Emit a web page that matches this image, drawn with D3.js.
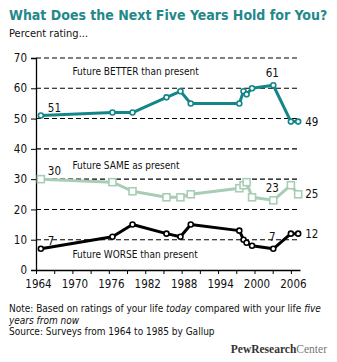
<!DOCTYPE html>
<html>
<head>
<meta charset="utf-8">
<script src="https://cdn.jsdelivr.net/npm/d3@7"></script>
<style>
  body { margin: 0; background: #fff; }
  svg text { font-family: "DejaVu Sans Condensed", "DejaVu Sans", sans-serif; font-stretch: condensed; }
</style>
</head>
<body>
<div id="chart"></div>
<script>
// survey dates (as plotted) and percentages
const years  = [1964.8, 1976.6, 1979.9, 1985.5, 1987.8, 1989.5, 1997.5, 1998.2, 1998.7, 1999.6, 2003.1, 2006.0, 2007.2];
const better = [51, 52, 52, 57, 59, 55, 55, 59, 58, 60, 61, 49, 49];
const same   = [30, 29, 26, 24, 24, 25, 27, 28, 29, 24, 23, 28, 25];
const worse  = [7, 11, 15, 12, 11, 15, 13, 10, 9, 8, 7, 12, 12];
const yTicks = [0, 10, 20, 30, 40, 50, 60, 70];
const xLabels = [1964, 1970, 1976, 1982, 1988, 1994, 2000, 2006];
// which points get a number (first, 2002, last)
const labelIdx = [0, 10, 12];

const svgWidth = 337, svgHeight = 362;
const svg = d3.select("#chart").append("svg")
  .attr("width", svgWidth)
  .attr("height", svgHeight);

// title + subtitle
svg.append("text")
  .attr("x", 9).attr("y", 20)
  .style("font-size", "14px").style("font-weight", "bold")
  .attr("fill", "#23888a")
  .text("What Does the Next Five Years Hold for You?");
svg.append("text")
  .attr("x", 9).attr("y", 37)
  .style("font-size", "11px").attr("fill", "#111")
  .text("Percent rating...");

const x = d3.scaleLinear().domain([1964, 2007.5]).range([36, 300]);
const y = d3.scaleLinear().domain([0, 70]).range([270, 58]);

const chart = svg.append("g");

// dashed grid
chart.selectAll(".grid")
  .data(yTicks.filter(d => d > 0))
  .enter().append("line")
  .attr("x1", x(1964)).attr("x2", x(2007.5))
  .attr("y1", d => y(d)).attr("y2", d => y(d))
  .attr("stroke", "#000").attr("stroke-width", 1.1)
  .attr("stroke-dasharray", "5,3");

// y axis
const yAxis = chart.append("g")
  .attr("transform", `translate(${x(1964)},0)`)
  .call(d3.axisLeft(y).tickValues(yTicks).tickSize(5).tickPadding(4));
yAxis.select(".domain").attr("stroke-width", 1.3);
yAxis.selectAll("text").style("font-size", "11.5px").attr("fill", "#111");

// x axis, ticks every 3 yrs, labels every 6
const xAxis = chart.append("g")
  .attr("transform", `translate(0,${y(0)})`)
  .call(d3.axisBottom(x).tickValues(d3.range(1964, 2007, 3)).tickSize(4).tickPadding(6)
    .tickSizeOuter(0)
    .tickFormat(d => xLabels.includes(d) ? d : ""));
xAxis.select(".domain").attr("stroke-width", 1.3);
xAxis.selectAll("text").style("font-size", "11.5px").attr("fill", "#111").attr("dx", 2);

const series = [
  { name: "better", values: better, color: "#14868a", shape: "circle", text: "Future BETTER than present", at: 64.4 },
  { name: "same",   values: same,   color: "#a9cdb4", shape: "square", text: "Future SAME as present",    at: 33.4 },
  { name: "worse",  values: worse,  color: "#000000", shape: "circle", text: "Future WORSE than present",  at: 3.9 }
];

const line = d3.line()
  .x(d => x(d.year))
  .y(d => y(d.value));

series.forEach(s => {
  const pts = years.map((yr, i) => ({ year: yr, value: s.values[i] }));
  const g = chart.append("g").attr("class", s.name);

  g.append("path")
    .datum(pts)
    .attr("d", line)
    .attr("fill", "none")
    .attr("stroke", s.color)
    .attr("stroke-width", 3)
    .attr("stroke-linejoin", "round");

  if (s.shape === "circle") {
    g.selectAll("circle").data(pts).enter().append("circle")
      .attr("cx", d => x(d.year)).attr("cy", d => y(d.value))
      .attr("r", 2.5)
      .attr("fill", "#fff").attr("stroke", s.color).attr("stroke-width", 1.6);
  } else {
    g.selectAll("rect").data(pts).enter().append("rect")
      .attr("x", d => x(d.year) - 3.5).attr("y", d => y(d.value) - 3.5)
      .attr("width", 7).attr("height", 7)
      .attr("fill", "#fff").attr("stroke", s.color).attr("stroke-width", 1.6);
  }

  // numbers
  labelIdx.forEach((i, k) => {
    const t = g.append("text")
      .attr("x", x(years[i])).attr("y", y(s.values[i]))
      .style("font-size", "11.5px").attr("fill", "#111")
      .text(s.values[i]);
    if (k === 0) t.attr("dx", 7).attr("dy", -4);
    else if (k === 1) t.attr("text-anchor", "middle").attr("dx", -1).attr("dy", -8);
    else t.attr("dx", 7).attr("dy", 4);
  });

  // series caption
  chart.append("text")
    .attr("x", x(1970)).attr("y", y(s.at))
    .style("font-size", "10px").attr("fill", "#111")
    .text(s.text);
});

// notes
const note = svg.append("text").attr("x", 9).attr("y", 312)
  .style("font-size", "10px").attr("fill", "#111");
note.append("tspan").text("Note: Based on ratings of your life ");
note.append("tspan").style("font-style", "italic").text("today");
note.append("tspan").text(" compared with your life ");
note.append("tspan").style("font-style", "italic").text("five");
svg.append("text").attr("x", 9).attr("y", 323.5)
  .style("font-size", "10px").style("font-style", "italic").attr("fill", "#111")
  .text("years from now");
svg.append("text").attr("x", 9).attr("y", 335)
  .style("font-size", "10px").attr("fill", "#111")
  .text("Source: Surveys from 1964 to 1985 by Gallup");

// logo
const logo = svg.append("text").attr("x", 327).attr("y", 353)
  .attr("text-anchor", "end")
  .style("font-family", "'Liberation Serif', 'DejaVu Serif', serif")
  .style("font-size", "11.5px").style("font-stretch", "normal");
logo.append("tspan").attr("fill", "#333").style("font-weight", "bold").text("PewResearch");
logo.append("tspan").attr("fill", "#777").text("Center");
</script>
</body>
</html>
